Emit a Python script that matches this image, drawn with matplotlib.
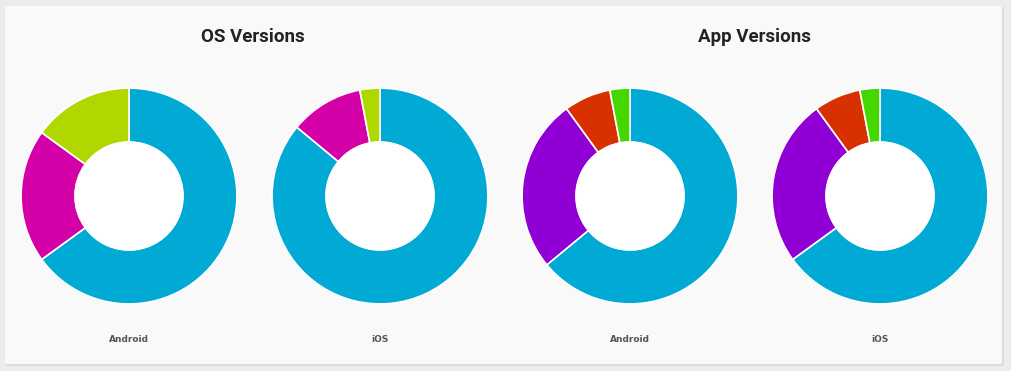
import matplotlib.pyplot as plt
from matplotlib.patches import FancyBboxPatch

# slice shares (percent)
os_android = [65, 20, 15]
os_ios = [86, 11, 3]
app_android = [64, 26, 7, 3]
app_ios = [65, 25, 7, 3]

os_colors = ["#00aad4", "#d400a8", "#b0d800"]
app_colors = ["#00aad4", "#9000d4", "#d93000", "#44d800"]

titles = ["OS Versions", "App Versions"]
platforms = ["Android", "iOS"]

W, H = 1012, 371
fig = plt.figure(figsize=(W / 100, H / 100), dpi=100)
fig.patch.set_facecolor("#ececec")

# card with soft shadow, kept under the axes
shadow = FancyBboxPatch((6 / W, 5 / H), 998 / W, 359 / H,
                        boxstyle="round,pad=0,rounding_size=0.004",
                        transform=fig.transFigure, facecolor="#dcdcdc",
                        edgecolor="none", zorder=-2)
card = FancyBboxPatch((5 / W, 7 / H), 997 / W, 358 / H,
                      boxstyle="round,pad=0,rounding_size=0.004",
                      transform=fig.transFigure, facecolor="#f9f9f9",
                      edgecolor="none", zorder=-1)
fig.patches.extend([shadow, card])

title_font = dict(family=["Roboto", "DejaVu Sans"], weight="bold",
                  size=13.5, color="#222222")
fig.text(253 / W, 1 - 37 / H, titles[0], ha="center", va="center", **title_font)
fig.text(754 / W, 1 - 37 / H, titles[1], ha="center", va="center", **title_font)

donuts = [
    (129, os_android, os_colors, platforms[0]),
    (380, os_ios, os_colors, platforms[1]),
    (630, app_android, app_colors, platforms[0]),
    (880, app_ios, app_colors, platforms[1]),
]

radius_px = 109
center_y = 196
for cx, values, colors, label in donuts:
    ax = fig.add_axes([(cx - radius_px) / W, (H - center_y - radius_px) / H,
                       2 * radius_px / W, 2 * radius_px / H])
    ax.pie(values, colors=colors, startangle=90, counterclock=False, radius=1,
           wedgeprops=dict(width=0.5, edgecolor="white", linewidth=1.2))
    ax.add_patch(plt.Circle((0, 0), 0.5, color="white", zorder=5))
    ax.set_xlim(-1.01, 1.01)
    ax.set_ylim(-1.01, 1.01)
    ax.set_aspect("equal")
    ax.axis("off")
    fig.text(cx / W, 1 - 339 / H, label, ha="center", va="center",
             fontsize=6.5, color="#555555", weight="bold")

fig.savefig("out.png", dpi=100, facecolor=fig.get_facecolor())
